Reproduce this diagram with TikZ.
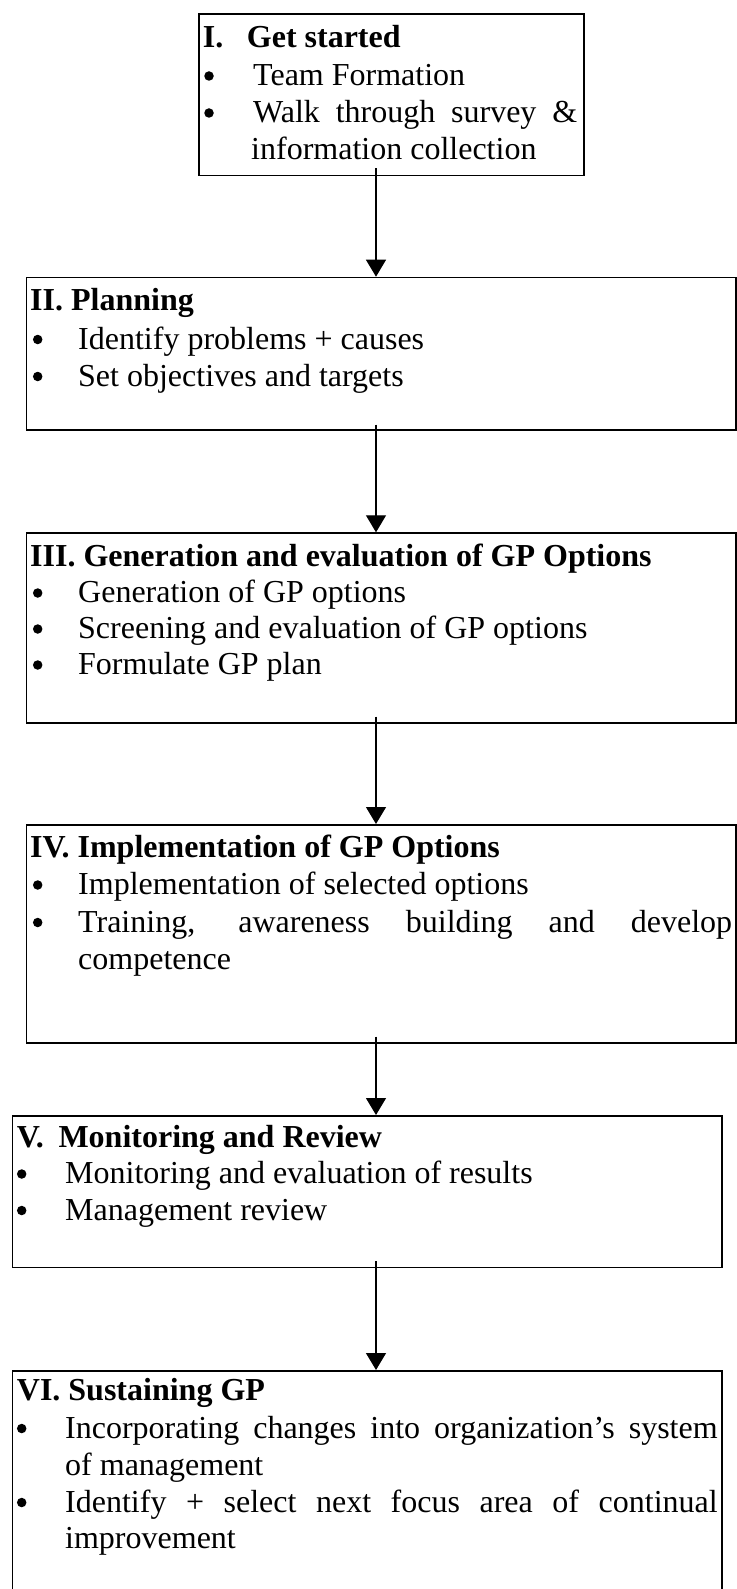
\documentclass[tikz,border=0pt]{standalone}
\usepackage{fontspec}
\setmainfont{Liberation Serif}
\usetikzlibrary{arrows.meta}
\begin{document}
\begin{tikzpicture}[x=1pt,y=-1pt,
  box/.style={draw, line width=1.5pt, inner sep=0pt, anchor=north west},
  txt/.style={inner sep=0pt, anchor=base west, font=\fontsize{32}{36.8}\selectfont},
  hd/.style={inner sep=0pt, anchor=base west, font=\fontsize{32}{36.8}\selectfont\bfseries},
  bul/.style={circle, fill=black, inner sep=0pt, minimum size=9.5pt, yshift=9.5pt},
  arr/.style={line width=1.2pt, -{Triangle[width=20pt,length=17pt]}}]
\useasboundingbox (0,0) rectangle (736,1589);

% boxes
\node[box, minimum width=385pt, minimum height=161.7pt] (b1) at (198.3,13.3) {};
\node[box, minimum width=709.3pt, minimum height=152.3pt] (b2) at (25.7,276.7) {};
\node[box, minimum width=709.3pt, minimum height=189.7pt] (b3) at (25.7,532.3) {};
\node[box, minimum width=709.3pt, minimum height=218pt] (b4) at (25.7,824) {};
\node[box, minimum width=709.3pt, minimum height=151.7pt] (b5) at (11.7,1115) {};
\node[box, minimum width=709.3pt, minimum height=222pt] (b6) at (11.7,1370) {};

% box I
\node[hd] (h1a) at (202.7,48) {I.};
\node[hd] (h1b) at (246.7,48) {Get started};
\node[bul] (p1a) at (209,85.5) {};
\node[txt] (t1a) at (253,85.5) {Team Formation};
\node[bul] (p1b) at (209,122.5) {};
\node[txt] (t1b) at (253,122.5) {\makebox[324pt][s]{Walk through survey \&}};
\node[txt] (t1c) at (251,160) {information collection};

% box II
\node[hd] (h2) at (30,310.5) {II. Planning};
\node[bul] (p2a) at (37.7,349) {};
\node[txt] (t2a) at (78,349) {Identify problems + causes};
\node[bul] (p2b) at (37.7,386) {};
\node[txt] (t2b) at (78,386) {Set objectives and targets};

% box III
\node[hd] (h3) at (30,566) {III. Generation and evaluation of GP Options};
\node[bul] (p3a) at (37.7,602.5) {};
\node[txt] (t3a) at (78,602.5) {Generation of GP options};
\node[bul] (p3b) at (37.7,638.5) {};
\node[txt] (t3b) at (78,638.5) {Screening and evaluation of GP options};
\node[bul] (p3c) at (37.7,674.5) {};
\node[txt] (t3c) at (78,674.5) {Formulate GP plan};

% box IV
\node[hd] (h4) at (30,857) {IV. Implementation of GP Options};
\node[bul] (p4a) at (37.7,894.5) {};
\node[txt] (t4a) at (78,894.5) {Implementation of selected options};
\node[bul] (p4b) at (37.7,932) {};
\node[txt] (t4b) at (78,932) {\makebox[654pt][s]{Training, awareness building and develop}};
\node[txt] (t4c) at (78,969.5) {competence};

% box V
\node[hd] (h5a) at (16.7,1147) {V.};
\node[hd] (h5b) at (58.3,1147) {Monitoring and Review};
\node[bul] (p5a) at (21.7,1183.5) {};
\node[txt] (t5a) at (65,1183.5) {Monitoring and evaluation of results};
\node[bul] (p5b) at (21.7,1220) {};
\node[txt] (t5b) at (65,1220) {Management review};

% box VI
\node[hd] (h6) at (16.7,1400) {VI. Sustaining GP};
\node[bul] (p6a) at (21.7,1438) {};
\node[txt] (t6a) at (65,1438) {\makebox[652.5pt][s]{Incorporating changes into organization’s system}};
\node[txt] (t6b) at (65,1475) {of management};
\node[bul] (p6b) at (21.7,1512) {};
\node[txt] (t6c) at (65,1512) {\makebox[652.5pt][s]{Identify + select next focus area of continual}};
\node[txt] (t6d) at (65,1548.5) {improvement};

% connectors
\coordinate (ax) at (376,0);
\draw[arr] ([yshift=8pt]b1.south -| ax) -- (b2.north -| ax);
\draw[arr] ([yshift=6pt]b2.south -| ax) -- (b3.north -| ax);
\draw[arr] ([yshift=7pt]b3.south -| ax) -- (b4.north -| ax);
\draw[arr] ([yshift=7pt]b4.south -| ax) -- (b5.north -| ax);
\draw[arr] ([yshift=7pt]b5.south -| ax) -- (b6.north -| ax);
\end{tikzpicture}
\end{document}
